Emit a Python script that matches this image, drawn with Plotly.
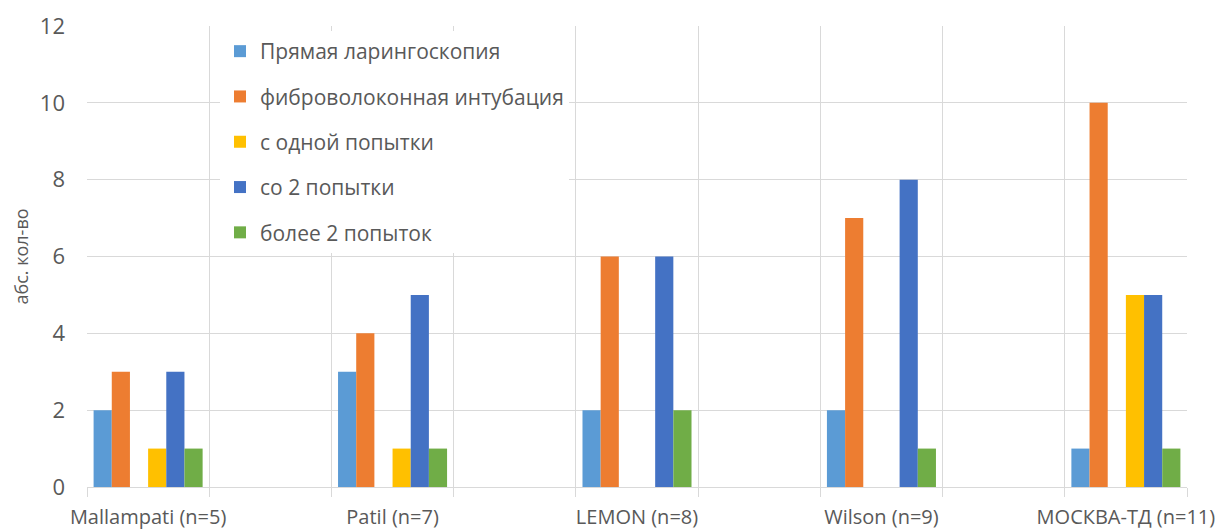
import plotly.graph_objects as go

# Groups of patients by airway assessment scale
categories = ["Mallampati (n=5)", "Patil (n=7)", "LEMON (n=8)", "Wilson (n=9)", "МОСКВА-ТД (n=11)"]

series_names = [
    "Прямая ларингоскопия",
    "фиброволоконная интубация",
    "с одной попытки",
    "со 2 попытки",
    "более 2 попыток",
]
direct_laryngoscopy = [2, 3, 2, 2, 1]
fiberoptic_intubation = [3, 4, 6, 7, 10]
first_attempt = [1, 1, 0, 0, 5]
second_attempt = [3, 5, 6, 8, 5]
more_than_two = [1, 1, 2, 1, 1]

colors = ["#5B9BD5", "#ED7D31", "#FFC000", "#4472C4", "#70AD47"]
text_color = "#595959"
grid_color = "#D9D9D9"
font_family = "Open Sans, Noto Sans, sans-serif"

# each group sits in every second slot of the category axis
x_pos = [2 * i for i in range(len(categories))]

fig = go.Figure()
values = [direct_laryngoscopy, fiberoptic_intubation, first_attempt, second_attempt, more_than_two]
for idx, (name, vals, col) in enumerate(zip(series_names, values, colors)):
    if idx == 2:
        # empty spacer series between the method and attempt bars
        fig.add_trace(go.Bar(x=x_pos, y=[None] * len(x_pos), showlegend=False,
                             hoverinfo="skip", marker_color="rgba(0,0,0,0)"))
    fig.add_trace(go.Bar(
        x=x_pos, y=[v if v > 0 else None for v in vals], name=name,
        marker=dict(color=col, line=dict(width=0)),
        legendgroup=name,
    ))

plot_top, plot_bottom = 26, 487
plot_h = plot_bottom - plot_top

fig.update_layout(
    width=1227, height=530,
    margin=dict(l=87, r=40, t=plot_top, b=530 - plot_bottom),
    paper_bgcolor="white", plot_bgcolor="white",
    barmode="group", bargap=0.554, bargroupgap=0,
    font=dict(family=font_family, color=text_color, size=21),
    showlegend=True,
    legend=dict(
        x=(220 - 87) / 1100, y=1 - (31 - plot_top) / plot_h,
        xanchor="left", yanchor="top",
        bgcolor="white", borderwidth=0,
        font=dict(size=21, color=text_color),
        traceorder="grouped", tracegroupgap=15,
    ),
    xaxis=dict(
        range=[-0.5, 8.5], automargin=False,
        tickmode="array", tickvals=x_pos, ticktext=categories,
        ticks="", showgrid=False, zeroline=False, showline=False,
        ticklabelstandoff=16,
        tickfont=dict(size=20, color=text_color),
        minor=dict(tickmode="array", tickvals=[i - 0.5 for i in range(10)],
                   showgrid=True, gridcolor=grid_color, gridwidth=1,
                   ticks="outside", ticklen=9, tickcolor=grid_color),
    ),
    yaxis=dict(
        range=[0, 12], dtick=2, automargin=False,
        showgrid=True, gridcolor=grid_color, gridwidth=1,
        zeroline=True, zerolinecolor=grid_color, zerolinewidth=1,
        showline=False, ticks="", ticklabelstandoff=21,
        tickfont=dict(size=22, color=text_color),
        title=dict(text="абс. кол-во", font=dict(size=18, color=text_color), standoff=6),
    ),
)

fig.write_html("out.html")
